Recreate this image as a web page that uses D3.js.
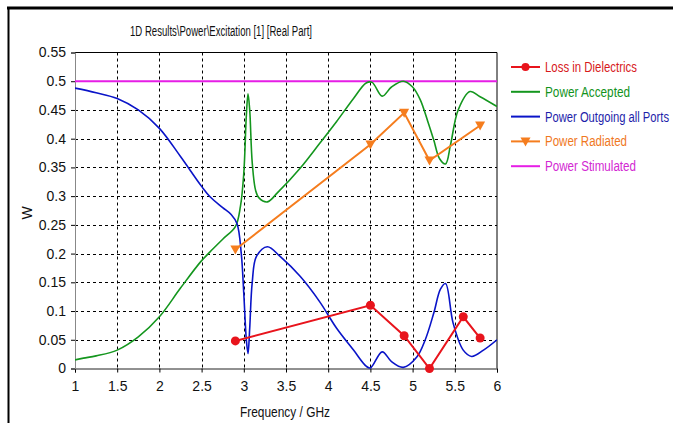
<!DOCTYPE html>
<html>
<head>
<meta charset="utf-8">
<script src="https://cdn.jsdelivr.net/npm/d3@7"></script>
<style>
  body { margin: 0; background: #fff; }
  svg { display: block; font-family: "Liberation Sans", Arial, sans-serif; }
  .grid line { stroke: #000; stroke-dasharray: 3,3; stroke-width: 1; }
  .axis text { font-size: 14px; fill: #111; }
</style>
</head>
<body>
<svg id="chart" width="673" height="423"></svg>
<script>
// ---- data ----
const xTicks = [1, 1.5, 2, 2.5, 3, 3.5, 4, 4.5, 5, 5.5, 6];
const yTicks = [0, 0.05, 0.1, 0.15, 0.2, 0.25, 0.3, 0.35, 0.4, 0.45, 0.5, 0.55];

const acceptedFreq = [1.0, 1.1, 1.25, 1.5, 1.75, 2.0, 2.25, 2.49, 2.6, 2.75, 2.9, 2.96, 3.0, 3.03, 3.05, 3.07, 3.1, 3.14, 3.18, 3.28, 3.4, 3.67, 3.9, 4.1, 4.3, 4.45, 4.52, 4.64, 4.75, 4.89, 5.0, 5.09, 5.18, 5.25, 5.32, 5.39, 5.45, 5.54, 5.68, 5.8, 6.0];
const acceptedVal = [0.015, 0.018, 0.022, 0.032, 0.055, 0.09, 0.14, 0.186, 0.203, 0.225, 0.247, 0.282, 0.34, 0.44, 0.478, 0.45, 0.358, 0.31, 0.297, 0.29, 0.306, 0.349, 0.392, 0.43, 0.47, 0.497, 0.498, 0.474, 0.49, 0.5, 0.49, 0.468, 0.43, 0.398, 0.365, 0.356, 0.39, 0.45, 0.482, 0.473, 0.456];

const outgoingFreq = [1.0, 1.25, 1.5, 1.75, 2.0, 2.25, 2.5, 2.6, 2.75, 2.85, 2.92, 2.97, 3.0, 3.03, 3.05, 3.07, 3.1, 3.15, 3.28, 3.43, 3.67, 3.9, 4.1, 4.3, 4.45, 4.5, 4.64, 4.75, 4.89, 5.05, 5.15, 5.25, 5.33, 5.39, 5.48, 5.6, 5.7, 5.84, 6.0];
const outgoingVal = [0.488, 0.48, 0.47, 0.45, 0.418, 0.369, 0.317, 0.299, 0.28, 0.268, 0.252, 0.2, 0.13, 0.05, 0.026, 0.07, 0.15, 0.195, 0.212, 0.195, 0.16, 0.116, 0.07, 0.032, 0.004, 0.001, 0.029, 0.012, 0.002, 0.02, 0.05, 0.096, 0.138, 0.148, 0.079, 0.032, 0.021, 0.032, 0.05];

const lossFreq = [2.9, 4.5, 4.9, 5.2, 5.6, 5.8];
const lossVal = [0.048, 0.11, 0.057, 0.0, 0.09, 0.053];

const radiatedFreq = [2.9, 4.5, 4.9, 5.2, 5.8];
const radiatedVal = [0.207, 0.39, 0.445, 0.362, 0.423];

const stimulatedFreq = [1, 6];
const stimulatedVal = [0.5, 0.5];

const legendNames = ['Loss in Dielectrics', 'Power Accepted', 'Power Outgoing all Ports', 'Power Radiated', 'Power Stimulated'];
const lineColors = ['#e8141c', '#14961e', '#0a14c8', '#f57d1e', '#e61ee6'];
const textColors = ['#d7191c', '#12931c', '#1e1eaa', '#f0781e', '#d228d2'];
// widths the legend labels take up in the reference (narrow UI font)
const legendWidths = [92, 85, 124, 82, 91];

// ---- layout ----
const svg = d3.select('#chart');
const plotL = 75, plotR = 497, plotT = 52.5, plotB = 368.5;

const x = d3.scaleLinear().domain([1, 6]).range([plotL, plotR]);
const y = d3.scaleLinear().domain([0, 0.55]).range([plotB, plotT]);

// outer window frame
svg.append('line').attr('x1', 7).attr('x2', 673).attr('y1', 8).attr('y2', 8)
  .attr('stroke', '#000').attr('stroke-width', 3);
svg.append('line').attr('x1', 8.5).attr('x2', 8.5).attr('y1', 7).attr('y2', 423)
  .attr('stroke', '#000').attr('stroke-width', 2);

// title
svg.append('text').attr('x', 130).attr('y', 36)
  .attr('font-size', 14).attr('fill', '#111')
  .attr('textLength', 182).attr('lengthAdjust', 'spacingAndGlyphs')
  .text('1D Results\\Power\\Excitation [1] [Real Part]');

// grid
const grid = svg.append('g').attr('class', 'grid');
grid.selectAll('line.v').data(xTicks.slice(1, -1)).join('line').attr('class', 'v')
  .attr('x1', (d) => Math.round(x(d)) + 0.5).attr('x2', (d) => Math.round(x(d)) + 0.5)
  .attr('y1', plotT).attr('y2', plotB);
grid.selectAll('line.h').data(yTicks.slice(1, -1)).join('line').attr('class', 'h')
  .attr('x1', plotL).attr('x2', plotR)
  .attr('y1', (d) => Math.round(y(d)) + 0.5).attr('y2', (d) => Math.round(y(d)) + 0.5);

// frame top/right
svg.append('line').attr('x1', plotL).attr('x2', plotR).attr('y1', plotT).attr('y2', plotT).attr('stroke', '#000');
svg.append('line').attr('x1', plotR).attr('x2', plotR).attr('y1', plotT).attr('y2', plotB).attr('stroke', '#000');

// axes
const xAxis = svg.append('g').attr('class', 'axis')
  .attr('transform', `translate(0,${plotB})`)
  .call(d3.axisBottom(x).tickValues(xTicks).tickFormat(d3.format('')).tickSize(4).tickPadding(9));
xAxis.select('.domain').attr('stroke', '#222');
const yAxis = svg.append('g').attr('class', 'axis')
  .attr('transform', `translate(${plotL},0)`)
  .call(d3.axisLeft(y).tickValues(yTicks).tickFormat(d3.format('')).tickSize(4).tickPadding(5));
yAxis.select('.domain').attr('stroke', '#888');

svg.append('text').attr('x', 240).attr('y', 417)
  .attr('font-size', 14).attr('fill', '#111')
  .attr('textLength', 90).attr('lengthAdjust', 'spacingAndGlyphs')
  .text('Frequency / GHz');
svg.append('text').attr('transform', 'translate(32,213) rotate(-90)').attr('text-anchor', 'middle')
  .attr('font-size', 14).attr('fill', '#111').text('W');

// clip
svg.append('clipPath').attr('id', 'clip').append('rect')
  .attr('x', plotL).attr('y', plotT - 2).attr('width', plotR - plotL).attr('height', plotB - plotT + 8);
const plot = svg.append('g').attr('clip-path', 'url(#clip)');

const zip = (fs, vs) => fs.map((f, i) => [f, vs[i]]);
const curved = d3.line().x((d) => x(d[0])).y((d) => y(d[1])).curve(d3.curveCatmullRom.alpha(0.5));
const straight = d3.line().x((d) => x(d[0])).y((d) => y(d[1]));

plot.append('path').datum(zip(stimulatedFreq, stimulatedVal)).attr('d', straight)
  .attr('fill', 'none').attr('stroke', lineColors[4]).attr('stroke-width', 2);
plot.append('path').datum(zip(acceptedFreq, acceptedVal)).attr('d', curved)
  .attr('fill', 'none').attr('stroke', lineColors[1]).attr('stroke-width', 1.6);
plot.append('path').datum(zip(outgoingFreq, outgoingVal)).attr('d', curved)
  .attr('fill', 'none').attr('stroke', lineColors[2]).attr('stroke-width', 1.6);

const radiated = zip(radiatedFreq, radiatedVal);
plot.append('path').datum(radiated).attr('d', straight)
  .attr('fill', 'none').attr('stroke', lineColors[3]).attr('stroke-width', 2);
const tri = 'M-5,-4L5,-4L0,5Z';
plot.selectAll('path.tri').data(radiated).join('path').attr('class', 'tri')
  .attr('d', tri).attr('transform', (d) => `translate(${x(d[0])},${y(d[1])})`)
  .attr('fill', lineColors[3]);

const loss = zip(lossFreq, lossVal);
plot.append('path').datum(loss).attr('d', straight)
  .attr('fill', 'none').attr('stroke', lineColors[0]).attr('stroke-width', 2);
svg.selectAll('circle.loss').data(loss).join('circle').attr('class', 'loss')
  .attr('cx', (d) => x(d[0])).attr('cy', (d) => y(d[1])).attr('r', 4.5)
  .attr('fill', lineColors[0]);

// legend
const legend = svg.append('g').attr('transform', 'translate(511,67)');
const items = legend.selectAll('g').data(legendNames).join('g')
  .attr('transform', (d, i) => `translate(0,${i * 24.8})`);
items.append('line').attr('x1', 0).attr('x2', 29).attr('y1', 0).attr('y2', 0)
  .attr('stroke', (d, i) => lineColors[i]).attr('stroke-width', 2);
items.filter((d, i) => i === 0).append('circle').attr('cx', 14.5).attr('r', 4).attr('fill', lineColors[0]);
items.filter((d, i) => i === 3).append('path').attr('d', tri)
  .attr('transform', 'translate(14.5,0)').attr('fill', lineColors[3]);
items.append('text').attr('x', 34).attr('y', 5).attr('font-size', 14)
  .attr('textLength', (d, i) => legendWidths[i]).attr('lengthAdjust', 'spacingAndGlyphs')
  .attr('fill', (d, i) => textColors[i]).text((d) => d);
</script>
</body>
</html>
